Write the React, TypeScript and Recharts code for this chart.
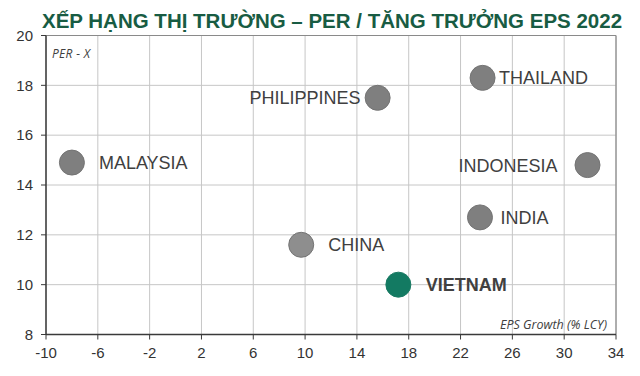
import React from "react";
import { ScatterChart, Scatter, XAxis, YAxis, CartesianGrid, ReferenceLine } from "recharts";

const markets = ["MALAYSIA", "PHILIPPINES", "THAILAND", "INDONESIA", "INDIA", "CHINA", "VIETNAM"];
const epsGrowth = [-8.0, 15.6, 23.7, 31.8, 23.5, 9.7, 17.2];
const perValues = [14.9, 17.5, 18.3, 14.8, 12.7, 11.6, 10.0];
const xTicks = [-10, -6, -2, 2, 6, 10, 14, 18, 22, 26, 30, 34];
const yTicks = [8, 10, 12, 14, 16, 18, 20];

const data = markets.map((name, i) => ({ name, x: epsGrowth[i], y: perValues[i] }));

const fillOf: Record<string, string> = {
  VIETNAM: "#137a62",
  CHINA: "#8e8e8e",
};
const labelSide: Record<string, { side: "left" | "right"; gap: number }> = {
  MALAYSIA: { side: "right", gap: 27 },
  PHILIPPINES: { side: "left", gap: 17 },
  THAILAND: { side: "right", gap: 16.5 },
  INDONESIA: { side: "left", gap: 30 },
  INDIA: { side: "right", gap: 20.5 },
  CHINA: { side: "right", gap: 27 },
  VIETNAM: { side: "right", gap: 27.5 },
};

const Bubble = (props: any) => {
  const { cx, cy, payload } = props;
  const name = payload.name as string;
  const fill = fillOf[name] || "#7f7f7f";
  const stroke = name === "VIETNAM" ? "#1a7a63" : "#747474";
  const ls = labelSide[name];
  const tx = ls.side === "right" ? cx + ls.gap : cx - ls.gap;
  return (
    <g>
      <circle cx={cx} cy={cy} r={12.5} fill={fill} stroke={stroke} strokeWidth={1} />
      <text
        x={tx}
        y={cy}
        dy="0.36em"
        textAnchor={ls.side === "right" ? "start" : "end"}
        fontFamily="'Liberation Sans', Arial, sans-serif"
        fontSize={18}
        fontWeight={name === "VIETNAM" ? "bold" : "normal"}
        fill="#404040"
      >
        {name}
      </text>
    </g>
  );
};

export default function App() {
  return (
    <div style={{ position: "absolute", left: 0, top: 0, width: 640, height: 376, background: "#fff" }}>
      <ScatterChart
        width={640}
        height={376}
        margin={{ top: 35.5, right: 24, bottom: 11.5, left: 6 }}
      >
        <CartesianGrid stroke="#c6c6c6" strokeWidth={1} />
        <ReferenceLine x={34} stroke="#8a8a8a" strokeWidth={1.2} ifOverflow="visible" />
        <ReferenceLine y={20} stroke="#8a8a8a" strokeWidth={1.2} ifOverflow="visible" />
        <XAxis
          type="number"
          dataKey="x"
          domain={[-10, 34]}
          ticks={xTicks}
          interval={0}
          height={30}
          tickSize={5}
          tickMargin={8}
          axisLine={{ stroke: "#3a3a3a", strokeWidth: 1.5 }}
          tickLine={{ stroke: "#3a3a3a" }}
          tick={{ fill: "#333", fontSize: 15, fontFamily: "'Liberation Sans', Arial, sans-serif" }}
        />
        <YAxis
          type="number"
          dataKey="y"
          domain={[8, 20]}
          ticks={yTicks}
          interval={0}
          width={40}
          tickSize={5}
          tickMargin={8}
          axisLine={{ stroke: "#3a3a3a", strokeWidth: 1.5 }}
          tickLine={{ stroke: "#3a3a3a" }}
          tick={{ fill: "#333", fontSize: 15, fontFamily: "'Liberation Sans', Arial, sans-serif" }}
        />
        <Scatter data={data} shape={Bubble} isAnimationActive={false} />
      </ScatterChart>
      <svg
        width={640}
        height={376}
        style={{ position: "absolute", left: 0, top: 0, pointerEvents: "none" }}
      >
        <text
          x={332}
          y={28}
          textAnchor="middle"
          fontFamily="'Liberation Sans', Arial, sans-serif"
          fontWeight="bold"
          fontSize={20.5}
          fill="#185c43"
        >
          XẾP HẠNG THỊ TRƯỜNG – PER / TĂNG TRƯỞNG EPS 2022
        </text>
        <text
          x={52}
          y={53.5}
          dy="0.35em"
          fontFamily="'Open Sans', sans-serif"
          fontStyle="italic"
          fontSize={12}
          textLength={38}
          lengthAdjust="spacing"
          fill="#404040"
        >
          PER - X
        </text>
        <text
          x={607}
          y={325}
          dy="0.35em"
          textAnchor="end"
          fontFamily="'Open Sans', sans-serif"
          fontStyle="italic"
          fontSize={12.5}
          fill="#404040"
        >
          EPS Growth (% LCY)
        </text>
      </svg>
    </div>
  );
}
